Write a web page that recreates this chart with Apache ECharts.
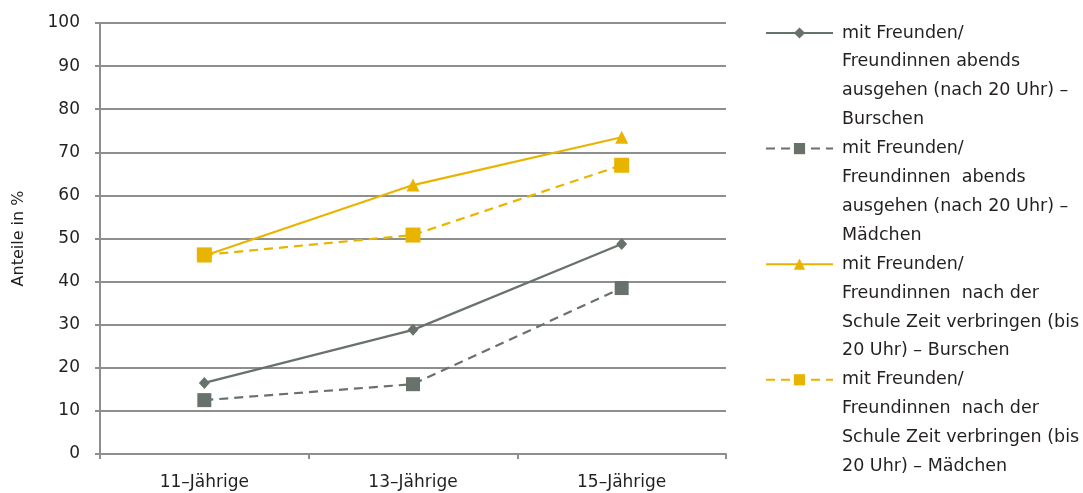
<!DOCTYPE html>
<html><head><meta charset="utf-8">
<script src="https://cdn.jsdelivr.net/npm/echarts@6/dist/echarts.min.js"></script>
<style>html,body{margin:0;padding:0;background:#fff}#c{width:1083px;height:493px}</style>
</head><body><div id="c"></div>
<script>
const categories = ['11–Jährige', '13–Jährige', '15–Jährige'];
const yTickMin = 0, yTickMax = 100, yTickStep = 10;
const yAxisTitle = 'Anteile in %';

const seriesNames = [
  'mit Freunden/ Freundinnen abends ausgehen (nach 20 Uhr) – Burschen',
  'mit Freunden/ Freundinnen abends ausgehen (nach 20 Uhr) – Mädchen',
  'mit Freunden/ Freundinnen nach der Schule Zeit verbringen (bis 20 Uhr) – Burschen',
  'mit Freunden/ Freundinnen nach der Schule Zeit verbringen (bis 20 Uhr) – Mädchen'
];
const legendLines = [
  ['mit Freunden/', 'Freundinnen abends', 'ausgehen (nach 20 Uhr) –', 'Burschen'],
  ['mit Freunden/', 'Freundinnen  abends', 'ausgehen (nach 20 Uhr) –', 'Mädchen'],
  ['mit Freunden/', 'Freundinnen  nach der', 'Schule Zeit verbringen (bis', '20 Uhr) – Burschen'],
  ['mit Freunden/', 'Freundinnen  nach der', 'Schule Zeit verbringen (bis', '20 Uhr) – Mädchen']
];
const abendsBurschen = [16.5, 28.8, 48.7];
const abendsMaedchen = [12.5, 16.2, 38.5];
const schuleBurschen = [46.0, 62.4, 73.5];
const schuleMaedchen = [46.2, 50.8, 67.0];

const GREY = '#68726a', GOLD = '#e9b400', AXIS = '#8e8e8e', TXT = '#231f20';
const FONT = 'DejaVu Sans';
const LH = 28.9;

const chart = echarts.init(document.getElementById('c'), null, {renderer: 'canvas'});
function mk(name, data, color, dashed, symbol, size) {
  return {
    name, type: 'line', data, symbol, symbolSize: size,
    lineStyle: {color, width: 2.2, type: dashed ? [9, 6] : 'solid'},
    itemStyle: {color},
    emphasis: {disabled: true},
    animation: false
  };
}
chart.setOption({
  animation: false,
  grid: {left: 100, right: 357, top: 23, bottom: 39},
  legend: {
    orient: 'vertical', left: 765, top: 33 - 3.5 * LH, padding: 0,
    itemWidth: 67, itemHeight: 14, itemGap: -3 * LH,
    data: seriesNames,
    textStyle: {fontFamily: FONT, fontSize: 17.5, color: TXT, lineHeight: LH, padding: [0, 0, 0, 4]},
    formatter: name => '\n\n\n' + legendLines[seriesNames.indexOf(name)].join('\n'),
    selectedMode: false
  },
  xAxis: {
    type: 'category', data: categories, boundaryGap: true,
    axisLine: {lineStyle: {color: AXIS, width: 2}},
    axisTick: {show: true, length: 5, lineStyle: {color: AXIS, width: 2}},
    axisLabel: {fontFamily: FONT, fontSize: 17, color: TXT, margin: 20}
  },
  yAxis: {
    type: 'value', min: yTickMin, max: yTickMax, interval: yTickStep,
    name: yAxisTitle, nameLocation: 'middle', nameGap: 73,
    nameTextStyle: {fontFamily: FONT, fontSize: 16, color: TXT},
    axisLine: {show: true, lineStyle: {color: AXIS, width: 2}},
    axisTick: {show: true, length: 5, lineStyle: {color: AXIS, width: 2}},
    axisLabel: {fontFamily: FONT, fontSize: 17, color: TXT, margin: 20},
    splitLine: {lineStyle: {color: AXIS, width: 2}}
  },
  series: [
    mk(seriesNames[0], abendsBurschen, GREY, false, 'diamond', [11, 12]),
    mk(seriesNames[1], abendsMaedchen, GREY, true, 'rect', 14),
    mk(seriesNames[2], schuleBurschen, GOLD, false, 'triangle', 13),
    mk(seriesNames[3], schuleMaedchen, GOLD, true, 'rect', 15)
  ]
});
</script></body></html>
